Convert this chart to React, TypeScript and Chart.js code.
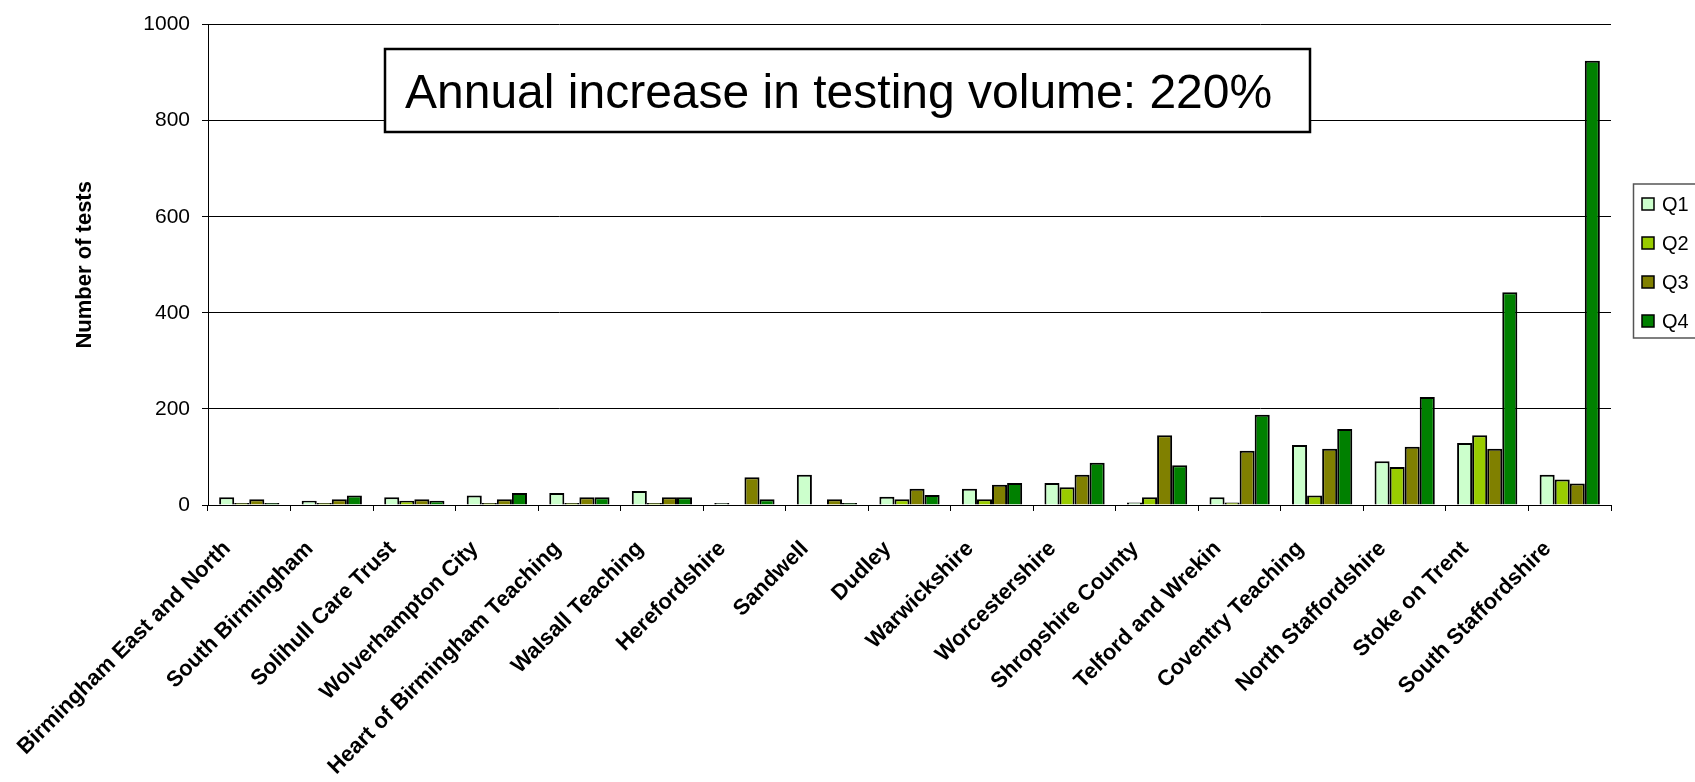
import React, { useEffect, useRef } from "react";
import { Chart, registerables } from "chart.js";

Chart.register(...registerables);

const categories = [
  "Birmingham East and North",
  "South Birmingham",
  "Solihull Care Trust",
  "Wolverhampton City",
  "Heart of Birmingham Teaching",
  "Walsall Teaching",
  "Herefordshire",
  "Sandwell",
  "Dudley",
  "Warwickshire",
  "Worcestershire",
  "Shropshire County",
  "Telford and Wrekin",
  "Coventry Teaching",
  "North Staffordshire",
  "Stoke on Trent",
  "South Staffordshire",
];

const q1 = [16, 9, 16, 20, 25, 29, 4, 63, 17, 34, 46, 5, 16, 125, 91, 129, 63];
const q2 = [4, 4, 9, 4, 4, 4, 0, 0, 12, 12, 37, 16, 5, 20, 79, 145, 53];
const q3 = [12, 12, 12, 12, 16, 16, 58, 12, 34, 42, 63, 145, 113, 117, 121, 117, 45];
const q4 = [4, 20, 9, 25, 16, 16, 12, 4, 21, 46, 88, 83, 188, 158, 225, 443, 925];

const seriesLabels = ["Q1", "Q2", "Q3", "Q4"];
const seriesColors = ["#CCFFCC", "#99CC00", "#808000", "#008000"];

const yMin = 0;
const yMax = 1000;
const yStep = 200;

const annotationText = "Annual increase in testing volume: 220%";
const yTitle = "Number of tests";

const FONT = "'Liberation Sans', Arial, sans-serif";

export default function App() {
  const canvasRef = useRef<HTMLCanvasElement | null>(null);

  useEffect(() => {
    const canvas = canvasRef.current;
    if (!canvas) return;

    const annotationPlugin = {
      id: "annotationBox",
      afterDraw(chart: any) {
        const ctx = chart.ctx;
        ctx.save();
        ctx.fillStyle = "#fff";
        ctx.fillRect(385, 49, 925, 83);
        ctx.lineWidth = 2.5;
        ctx.strokeStyle = "#000";
        ctx.strokeRect(385, 49, 925, 83);
        ctx.fillStyle = "#000";
        ctx.font = `48px ${FONT}`;
        ctx.textAlign = "left";
        ctx.textBaseline = "alphabetic";
        ctx.fillText(annotationText, 405, 107.5);
        ctx.restore();
      },
    };

    const legendPlugin = {
      id: "customLegend",
      afterDraw(chart: any) {
        const ctx = chart.ctx;
        ctx.save();
        ctx.fillStyle = "#fff";
        ctx.fillRect(1633.5, 184, 80, 154);
        ctx.lineWidth = 1.5;
        ctx.strokeStyle = "#555";
        ctx.strokeRect(1633.5, 184, 80, 154);
        chart.data.datasets.forEach((ds: any, i: number) => {
          const cy = 204 + i * 39;
          ctx.fillStyle = ds.backgroundColor;
          ctx.fillRect(1642, cy - 6, 12, 12);
          ctx.lineWidth = 1.5;
          ctx.strokeStyle = "#000";
          ctx.strokeRect(1642, cy - 6, 12, 12);
          ctx.fillStyle = "#000";
          ctx.font = `20px ${FONT}`;
          ctx.textAlign = "left";
          ctx.textBaseline = "middle";
          ctx.fillText(ds.label, 1662, cy + 1);
        });
        ctx.restore();
      },
    };

    const series = [q1, q2, q3, q4];

    const chart = new Chart(canvas, {
      type: "bar",
      data: {
        labels: categories,
        datasets: series.map((data, i) => ({
          label: seriesLabels[i],
          data,
          backgroundColor: seriesColors[i],
          borderColor: "#000",
          borderWidth: 2,
          categoryPercentage: 0.73,
          barPercentage: 1.0,
        })),
      },
      options: {
        animation: false,
        responsive: true,
        maintainAspectRatio: false,
        layout: { padding: { left: 0, right: 84, top: 17, bottom: 0 } },
        plugins: {
          legend: { display: false },
          tooltip: { enabled: false },
        },
        scales: {
          x: {
            grid: {
              offset: true,
              display: true,
              drawOnChartArea: false,
              drawTicks: true,
              tickLength: 6,
              color: "#000",
              lineWidth: 1,
            },
            border: { display: true, color: "#000", width: 1 },
            ticks: {
              autoSkip: false,
              minRotation: 45,
              maxRotation: 45,
              padding: 25,
              labelOffset: -22,
              color: "#000",
              font: { family: FONT, size: 22, weight: "bold" },
            },
            afterFit(scale: any) {
              scale.height = 277;
            },
          },
          y: {
            min: yMin,
            max: yMax,
            ticks: {
              stepSize: yStep,
              padding: 12,
              color: "#000",
              font: { family: FONT, size: 21 },
              callback: (value: any) => String(value),
            },
            grid: {
              color: "#000",
              lineWidth: 1,
              drawTicks: true,
              tickLength: 6,
            },
            border: { display: true, color: "#000", width: 1 },
            title: {
              display: true,
              text: yTitle,
              color: "#000",
              font: { family: FONT, size: 22, weight: "bold" },
              padding: { top: 72, bottom: 0 },
            },
            afterFit(scale: any) {
              scale.width = 208;
            },
          },
        },
      },
      plugins: [annotationPlugin, legendPlugin],
    });

    return () => {
      chart.destroy();
    };
  }, []);

  return (
    <div
      style={{
        position: "fixed",
        left: 0,
        top: 0,
        width: 1695,
        height: 782,
        background: "#fff",
      }}
    >
      <canvas ref={canvasRef} />
    </div>
  );
}
